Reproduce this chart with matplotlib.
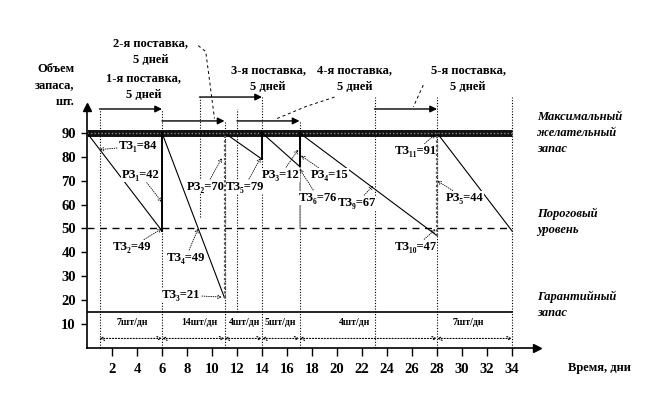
import matplotlib
matplotlib.use("Agg")
import matplotlib.pyplot as plt

plt.rcParams['font.family'] = ['Liberation Serif', 'DejaVu Serif']
plt.rcParams['font.weight'] = 'bold'

# ---------------- data ----------------
x_ticks = [2, 4, 6, 8, 10, 12, 14, 16, 18, 20, 22, 24, 26, 28, 30, 32, 34]
y_ticks = [10, 20, 30, 40, 50, 60, 70, 80, 90]

max_level = 90
threshold_level = 50
guarantee_level = 15
horizon = 34

# stock curve (day, units)
stock_days = [0, 6, 6, 11, 11, 14, 14, 17, 17, 28, 28, 34]
stock_units = [90, 49, 90, 21, 90, 79, 90, 76, 90, 47, 90, 49]

# deliveries: start day, end day, level of arrow
deliv_start = [1, 6, 9, 12, 23]
deliv_end = [6, 11, 14, 17, 28]
deliv_level = [100, 95, 105, 95, 100]
deliv_names = ["1-я поставка,\n5 дней", "2-я поставка,\n5 дней", "3-я поставка,\n5 дней",
               "4-я поставка,\n5 дней", "5-я поставка,\n5 дней"]

# consumption intervals
rate_start = [1, 6, 11, 14, 17, 28]
rate_end = [6, 11, 14, 17, 28, 34]
rate_labels = ["7шт/дн", "14шт/дн", "4шт/дн", "5шт/дн", "4шт/дн", "7шт/дн"]

# point annotations: label, target day, target units
ann_labels = ["ТЗ₁=84", "РЗ₁=42", "ТЗ₂=49", "ТЗ₄=49", "ТЗ₃=21", "РЗ₂=70", "ТЗ₅=79",
              "РЗ₃=12", "РЗ₄=15", "ТЗ₆=76", "ТЗ₉=67", "ТЗ₁₁=91", "РЗ₅=44", "ТЗ₁₀=47"]
ann_day = [1, 6, 6, 8.9, 10.8, 10.8, 13.9, 16.9, 17.1, 17, 22.9, 27.9, 28, 27.9]
ann_units = [83, 61, 50, 50, 21.3, 79.5, 79.5, 83, 80.5, 75, 68, 89.5, 70, 49.8]

# ---------------- figure ----------------
fig = plt.figure(figsize=(6.61, 3.96), dpi=100)
ax = fig.add_axes([87/661, 48/396, 450/661, 241.4/396])
ax.set_xlim(0, 36)
ax.set_ylim(0, 101)
for s in ['top', 'right']:
    ax.spines[s].set_visible(False)
ax.spines['left'].set_linewidth(1.2)
ax.spines['bottom'].set_linewidth(1.2)
ax.plot(1, 0, '>k', ms=6, transform=ax.transAxes, clip_on=False)
ax.plot(0, 1, '^k', ms=6, transform=ax.transAxes, clip_on=False)

ax.set_xticks(x_ticks)
ax.set_yticks(y_ticks)
ax.tick_params(axis='x', direction='out', length=6, width=1, pad=5, labelsize=10.5)
ax.tick_params(axis='y', direction='out', length=4, width=1, pad=4, labelsize=10.5)
for lab in ax.get_xticklabels() + ax.get_yticklabels():
    lab.set_fontweight('bold')

# reference levels
ax.plot([0, horizon], [max_level, max_level], color='#111111', lw=5, solid_capstyle='butt', zorder=3)
ax.plot([0, horizon], [max_level, max_level], color='#888888', lw=1, ls=(0, (1, 1.5)), zorder=3)
ax.plot([0, horizon], [threshold_level, threshold_level], color='black', lw=1, ls=(0, (5, 4)), zorder=2)
ax.plot([0, horizon], [guarantee_level, guarantee_level], color='black', lw=1.2, zorder=2)

# dotted verticals
vlines = [(1, 0, 100), (6, 0, 100), (9, 55, 105), (11, 0, 95), (12, 15, 100), (14, 0, 105),
          (17, 0, 95), (23, 0, 105), (28, 0, 105), (34, 0, 105)]
for xv, y0, y1 in vlines:
    ax.plot([xv, xv], [y0, y1], color='black', lw=0.8, ls=(0, (1, 1.5)), zorder=1, clip_on=False)

# stock curve
for i in range(0, len(stock_days) - 1):
    x0, x1 = stock_days[i], stock_days[i + 1]
    y0, y1 = stock_units[i], stock_units[i + 1]
    if x0 == x1:
        if x0 in (11, 28):
            ax.plot([x0, x1], [y0, y1], color='#555555', lw=1.6, ls=(0, (1, 1)), zorder=6)
        else:
            ax.plot([x0, x1], [y0, y1], color='black', lw=1.4, zorder=6)
    else:
        ax.plot([x0, x1], [y0, y1], color='black', lw=0.8, zorder=3)
ax.plot([17, 17], [50, 76], color='#999999', lw=1.2, zorder=2)

# delivery arrows + labels
text_pos = [(4.5, 109.5), (5.1, 124), (14.5, 112.7), (21.4, 112.7), (30.5, 112.7)]
for s, e, lv, name, (tx, ty) in zip(deliv_start, deliv_end, deliv_level, deliv_names, text_pos):
    ax.annotate('', xy=(e, lv), xytext=(s, lv), annotation_clip=False,
                arrowprops=dict(arrowstyle='-|>', color='black', lw=1, mutation_scale=10,
                                shrinkA=0, shrinkB=0))
    ax.text(tx, ty, name, ha='center', va='center', fontsize=9, fontweight='bold',
            linespacing=1.5, clip_on=False)

# dashed leader lines from texts
ax.plot([8.9, 9.5, 10.2], [126.5, 124, 96], color='black', lw=0.7, ls=(0, (3, 3)), clip_on=False)
ax.plot([19.8, 17.5, 15.2], [105, 101, 96], color='black', lw=0.7, ls=(0, (3, 3)), clip_on=False)
ax.plot([26.9, 26.1], [110, 100.8], color='black', lw=0.7, ls=(0, (3, 3)), clip_on=False)

# consumption interval arrows
rate_text_x = [3.6, 9.0, 12.6, 15.5, 21.4, 30.5]
for s, e, lab, tx in zip(rate_start, rate_end, rate_labels, rate_text_x):
    ax.annotate('', xy=(e, 4), xytext=(s, 4),
                arrowprops=dict(arrowstyle='<->', color='black', lw=0.8, ls=':',
                                mutation_scale=7, shrinkA=0, shrinkB=0))
    ax.text(tx, 10.5, lab, ha='center', va='center', fontsize=7, fontweight='bold')

# point annotations
label_pos = [(4.1, 84.5), (4.3, 72.4), (3.6, 42.3), (7.9, 37.7), (7.5, 22.2), (9.5, 67.4),
             (12.6, 67.4), (15.5, 72.4), (19.4, 72.4), (18.5, 62.8), (21.6, 60.7),
             (26.3, 82.4), (30.2, 62.8), (26.3, 42.3)]
for lab, dx, dy, (tx, ty) in zip(ann_labels, ann_day, ann_units, label_pos):
    ax.annotate(lab, xy=(dx, dy), xytext=(tx, ty), ha='center', va='center',
                fontsize=9, fontweight='bold', zorder=5,
                bbox=dict(boxstyle='square,pad=0.05', fc='white', ec='none'),
                arrowprops=dict(arrowstyle='->', color='black', lw=0.6, ls=':',
                                mutation_scale=6, shrinkA=1, shrinkB=0))

# right side labels
right_kw = dict(ha='left', va='center', fontsize=9, fontweight='bold', style='italic', clip_on=False)
ax.text(36.0, 90, "Максимальный\nжелательный\nзапас", linespacing=1.45, **right_kw)
ax.text(36.0, 52.7, "Пороговый\nуровень", linespacing=1.45, **right_kw)
ax.text(36.0, 18, "Гарантийный\nзапас", linespacing=1.45, **right_kw)

# axis titles
ax.text(-1.0, 110, "Объем\nзапаса,\nшт.", ha='right', va='center', fontsize=9,
        fontweight='bold', linespacing=1.5, clip_on=False)
ax.text(41.0, -8.4, "Время, дни", ha='center', va='center', fontsize=9,
        fontweight='bold', clip_on=False)

fig.savefig("out.png", dpi=100)
